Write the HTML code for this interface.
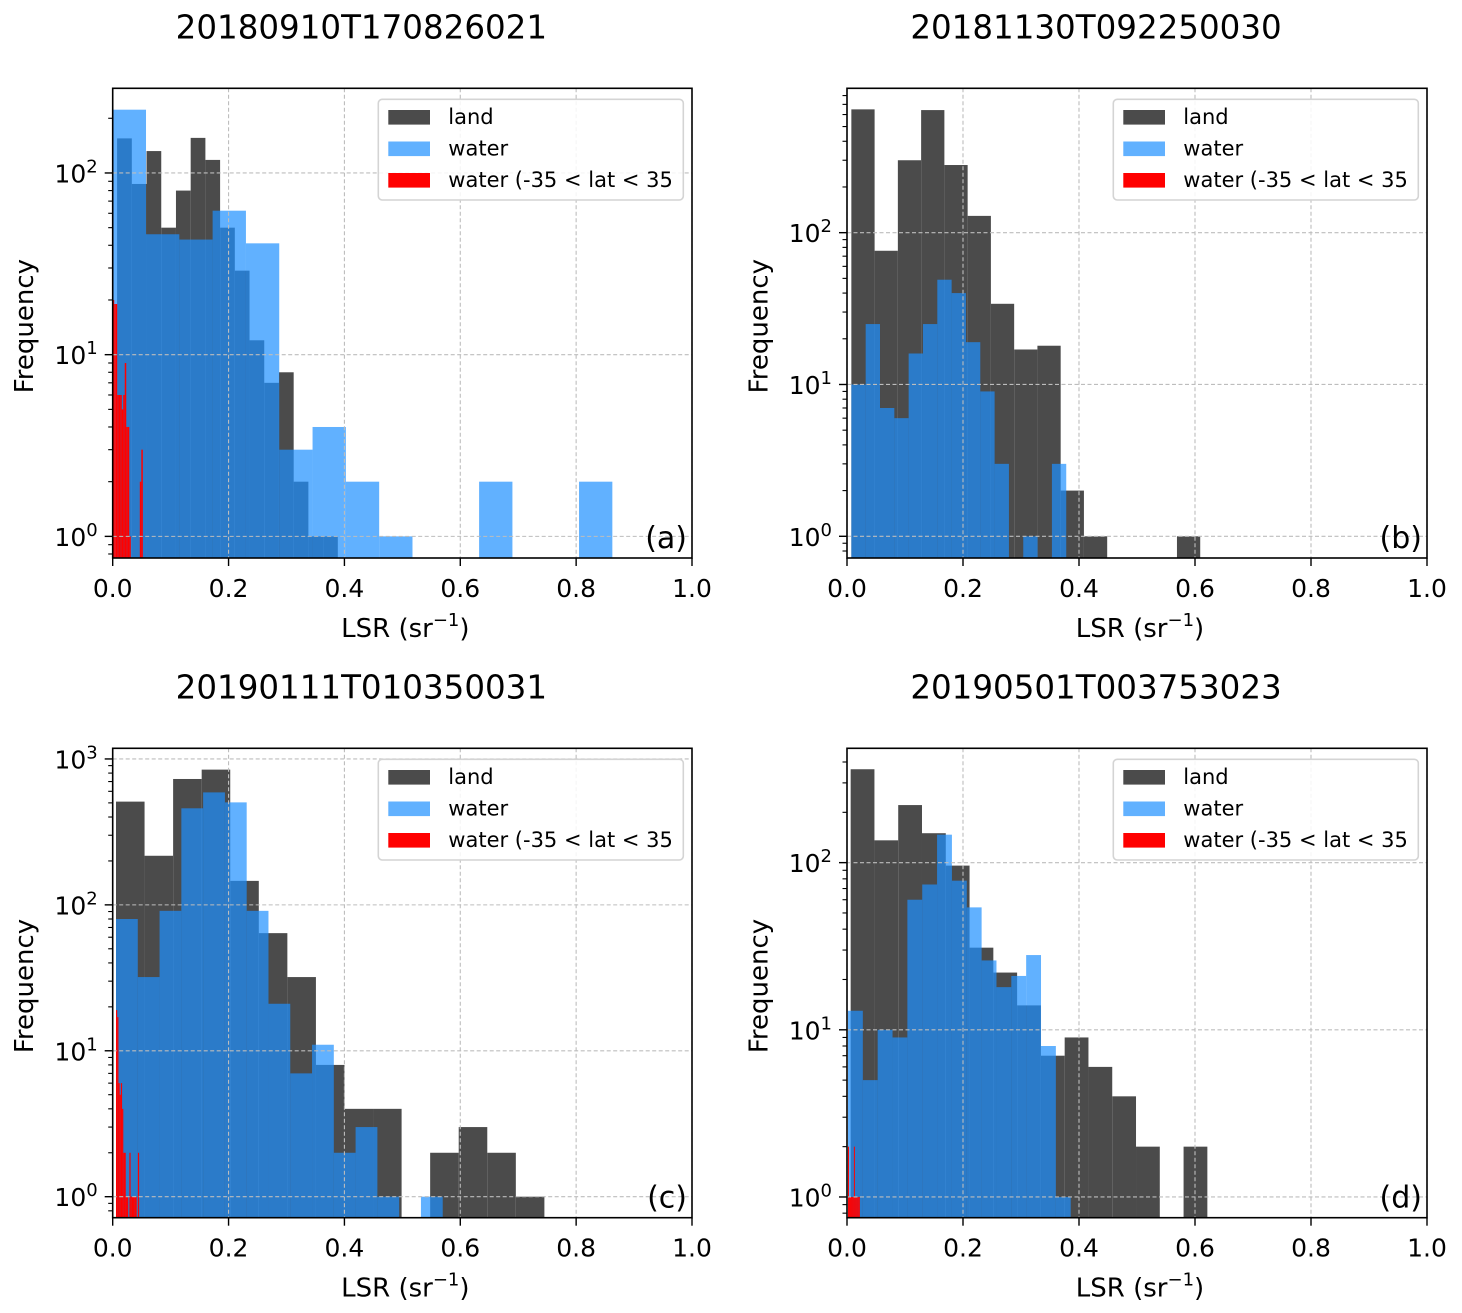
<!DOCTYPE html>
<html><head><meta charset="utf-8">
<style>
html,body{margin:0;padding:0;background:#fff;}
svg{display:block;font-family:"DejaVu Sans","Liberation Sans",sans-serif;}
</style></head>
<body>
<svg id="fig" width="1462" height="1313" viewBox="0 0 1462 1313" xmlns="http://www.w3.org/2000/svg"></svg>
<script>
// ---- data (bin start, bin width in LSR units; counts per bin) ----
const titles = ["20180910T170826021","20181130T092250030","20190111T010350031","20190501T003753023"];
const panelTags = ["(a)","(b)","(c)","(d)"];
const xTicks = [0.0,0.2,0.4,0.6,0.8,1.0];
const xTickLabels = ["0.0","0.2","0.4","0.6","0.8","1.0"];

const landA = [155,87,132,50,80,156,118,50,29,12,7,8,2,1,1];
const landABins = [0.0076,0.0254];
const waterA = [223,46,43,62,41,3,4,2,1,0,0,2,0,0,2];
const waterABins = [0.0,0.0575];
const redA = [20,19,19,6,6,6,5,6,9,4,4,1,0,0,0,0,0,0,2,3];
const redABins = [0.0,0.0026];

const landB = [649,76,300,642,279,129,34,17,18,2,1,0,0,0,1];
const landBBins = [0.0075,0.0401];
const waterB = [10,25,7,6,16,25,49,40,19,9,3,0,1,0,3];
const waterBBins = [0.0075,0.0247];
const redB = [];
const redBBins = [0.0,0.0025];

const landC = [510,217,729,845,146,64,32,8,4,4,0,2,3,2,1];
const landCBins = [0.0057,0.0493];
const waterC = [80,32,91,459,590,504,91,21,7,11,2,3,1,0,1];
const waterCBins = [0.0057,0.0376];
const redC = [19,17,6,5,6,4,2,2,1,1,0,2,1,1,1,1,1,0,2,0];
const redCBins = [0.0057,0.0021];

const landD = [362,136,221,150,96,31,22,14,7,9,6,4,2,0,2];
const landDBins = [0.0063,0.041];
const waterD = [13,5,10,9,60,74,147,78,54,26,18,21,28,8,1];
const waterDBins = [0.0017,0.0256];
const redD = [2,1,1,1,1,1,2,1,1,1,1,1];
const redDBins = [0.0017,0.0017];

// y-axis log limits per panel
const yLogLimits = [[-0.119,2.466],[-0.143,2.951],[-0.144,3.073],[-0.124,2.684]];

// ---- layout ----
const NS = "http://www.w3.org/2000/svg";
const svg = document.getElementById("fig");
const frames = [
  {l:112.7,r:692,t:88.3,b:558},
  {l:847,r:1427,t:88.3,b:558},
  {l:112.7,r:692,t:748.3,b:1217.7},
  {l:847,r:1427,t:748.3,b:1217.7}
];
const series = [
  [landA,landABins,waterA,waterABins,redA,redABins],
  [landB,landBBins,waterB,waterBBins,redB,redBBins],
  [landC,landCBins,waterC,waterCBins,redC,redCBins],
  [landD,landDBins,waterD,waterDBins,redD,redDBins]
];
function mk(tag, attrs, parent){
  const e = document.createElementNS(NS, tag);
  for (const k in attrs) e.setAttribute(k, attrs[k]);
  (parent||svg).appendChild(e);
  return e;
}
const letters = ["a","b","c","d"];

frames.forEach((f, p) => {
  const g = mk("g", {});
  
  
  const [lo, hi] = yLogLimits[p];
  const xs = v => f.l + v * (f.r - f.l);
  const ys = c => f.b - (Math.log10(c) - lo) / (hi - lo) * (f.b - f.t);
  const [land, landBins, water, waterBins, red, redBins] = series[p];

  const clipId = "clip" + p;
  const cp = mk("clipPath", {id: clipId}, g);
  mk("rect", {x:f.l, y:f.t, width:f.r-f.l, height:f.b-f.t}, cp);
  const plot = mk("g", {"clip-path":"url(#"+clipId+")"}, g);

  function drawHist(vals, bins, fill, opacity, name){
    vals.forEach((c, i) => {
      if (c <= 0) return;
      const x0 = xs(bins[0] + i*bins[1]);
      const x1 = xs(bins[0] + (i+1)*bins[1]);
      const r = mk("rect", {x:x0, y:ys(c), width:Math.max(x1-x0,0.5), height:f.b - ys(c) + 2, fill:fill, "fill-opacity":opacity}, plot);
      
      
    });
  }
  drawHist(land, landBins, "#4b4b4b", 1, "land");
  drawHist(water, waterBins, "#1e90ff", 0.7, "water");
  drawHist(red, redBins, "#ff0000", 1, "water-tropics");

  // grid
  xTicks.forEach(t => {
    const x = xs(t);
    const l = mk("line", {x1:x, x2:x, y1:f.t, y2:f.b, stroke:"#bdbdbd", "stroke-width":1.1, "stroke-dasharray":"4,2.5"}, g);
    
    
  });
  for (let k = Math.ceil(lo); k <= Math.floor(hi); k++){
    const y = ys(Math.pow(10,k));
    const l = mk("line", {x1:f.l, x2:f.r, y1:y, y2:y, stroke:"#bdbdbd", "stroke-width":1.1, "stroke-dasharray":"4,2.5"}, g);
    
    
  }

  // frame
  const fr = mk("rect", {x:f.l, y:f.t, width:f.r-f.l, height:f.b-f.t, fill:"none", stroke:"#000", "stroke-width":1.6}, g);
  
  

  // x ticks
  xTicks.forEach((t, i) => {
    const x = xs(t);
    mk("line", {x1:x, x2:x, y1:f.b, y2:f.b+8, stroke:"#000", "stroke-width":1.4}, g);
    const tx = mk("text", {x:x, y:f.b+39, "text-anchor":"middle", "font-size":25, fill:"#000"}, g);
    tx.textContent = xTickLabels[i];
    
    
  });
  // y ticks (log)
  for (let k = Math.floor(lo); k <= Math.ceil(hi); k++){
    for (let m = 1; m <= 9; m++){
      const v = m * Math.pow(10,k);
      const lv = Math.log10(v);
      if (lv < lo - 1e-6 || lv > hi + 1e-6) continue;
      const y = ys(v);
      const len = m === 1 ? 8 : 4.5;
      mk("line", {x1:f.l-len, x2:f.l, y1:y, y2:y, stroke:"#000", "stroke-width": m===1?1.4:1.1}, g);
      if (m === 1){
        const tx = mk("text", {x:f.l-15, y:y+9.5, "text-anchor":"end", "font-size":25, fill:"#000"}, g);
        
        
        const base = mk("tspan", {}, tx); base.textContent = "10";
        const sup = mk("tspan", {"font-size":18, dy:-10}, tx); sup.textContent = String(k);
      }
    }
  }

  // title
  const tt = mk("text", {x:(f.l+f.r)/2 - 41, y:f.t-50, "text-anchor":"middle", "font-size":32.5, fill:"#000"}, g);
  tt.textContent = titles[p];
  
  

  // axis labels
  const xl = mk("text", {x:(f.l+f.r)/2 + 3, y:f.b+79, "text-anchor":"middle", "font-size":26, fill:"#000"}, g);
  
  
  const t1 = mk("tspan", {}, xl); t1.textContent = "LSR (sr";
  const t2 = mk("tspan", {"font-size":18, dy:-11}, xl); t2.textContent = "\u22121";
  const t3 = mk("tspan", {dy:11}, xl); t3.textContent = ")";
  const ylx = f.l - 79.5, yly = (f.t+f.b)/2 + 3;
  const yl = mk("text", {x:ylx, y:yly, "text-anchor":"middle", "font-size":26, fill:"#000", transform:"rotate(-90 "+ylx+" "+yly+")"}, g);
  yl.textContent = "Frequency";
  
  

  // panel tag
  const tg = mk("text", {x:f.r-5, y:f.b-10, "text-anchor":"end", "font-size":30, fill:"#000"}, g);
  tg.textContent = panelTags[p];
  
  

  // legend
  const lg = mk("g", {}, g);
  
  
  const bx = f.r - 313.7, by = f.t + 11;
  mk("rect", {x:bx, y:by, width:305, height:100.7, rx:4, fill:"#fff", "fill-opacity":0.85, stroke:"#d4d4d4", "stroke-width":1.6}, lg);
  const entries = [["land","#4b4b4b",1],["water","#1e90ff",0.7],["water (-35 < lat < 35","#ff0000",1]];
  entries.forEach((e, i) => {
    const ey = by + 10.7 + i*31.5;
    const sw = mk("rect", {x:bx+10, y:ey, width:41.7, height:14.6, fill:e[1], "fill-opacity":e[2]}, lg);
    
    
    const lt = mk("text", {x:bx+70, y:ey+14, "font-size":21, fill:"#000"}, lg);
    lt.textContent = e[0];
    
    
  });
});
</script>
</body></html>
